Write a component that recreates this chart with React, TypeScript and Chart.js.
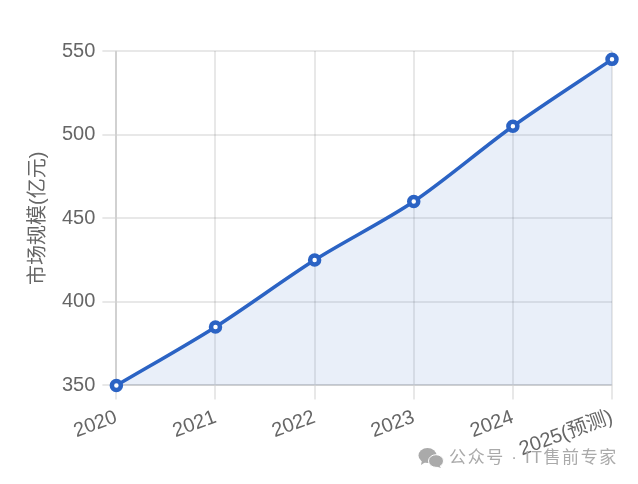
import React, { useEffect, useRef } from "react";
import { Chart, registerables } from "chart.js";

Chart.register(...registerables);

const categories = ["2020", "2021", "2022", "2023", "2024", "2025(预测)"];
const marketSize = [350, 385, 425, 460, 505, 545];
const yAxisTitle = "市场规模(亿元)";
const watermark = "公众号 · IT售前专家";
const FONT = '"Liberation Sans", "Noto Sans CJK SC", sans-serif';

export default function App() {
  const ref = useRef<HTMLCanvasElement | null>(null);
  useEffect(() => {
    const chart = new Chart(ref.current!, {
      type: "line",
      data: {
        labels: categories,
        datasets: [
          {
            data: marketSize,
            borderColor: "#2b63c4",
            backgroundColor: "rgba(43,99,196,0.1)",
            borderWidth: 3.5,
            fill: true,
            tension: 0.3,
            pointRadius: 4.5,
            pointBorderWidth: 4.5,
            pointBackgroundColor: "#ffffff",
            pointBorderColor: "#2b63c4",
            clip: false,
          },
        ],
      },
      options: {
        responsive: false,
        animation: false,
        layout: { padding: { top: 51, right: 26, left: 26, bottom: 16.5 } },
        plugins: { legend: { display: false }, tooltip: { enabled: false } },
        scales: {
          x: {
            offset: false,
            border: { width: 2 },
            grid: { color: "rgba(0,0,0,0.09)", lineWidth: 2, tickLength: 14 },
            ticks: { color: "#666", font: { family: FONT, size: 20 }, minRotation: 20, maxRotation: 20, padding: 6 },
          },
          y: {
            min: 350,
            max: 550,
            border: { width: 2 },
            grid: { color: "rgba(0,0,0,0.09)", lineWidth: 2, tickLength: 14 },
            ticks: { stepSize: 50, color: "#666", font: { family: FONT, size: 20 }, padding: 7 },
            title: { display: true, text: yAxisTitle, color: "#666", font: { family: FONT, size: 20 }, padding: { top: 0, bottom: 5 } },
          },
        },
      },
    });
    return () => chart.destroy();
  }, []);
  return (
    <div style={{ position: "fixed", left: 0, top: 0, width: 638, height: 484, background: "#fff" }}>
      <canvas ref={ref} width={638} height={484} style={{ display: "block" }} />
      <svg width="26" height="22" viewBox="0 0 26 22" style={{ position: "absolute", left: 418, top: 447 }}>
        <ellipse cx="9.5" cy="8.5" rx="9" ry="7.5" fill="#aaa" />
        <path d="M4 13 L3 18 L9 14 Z" fill="#aaa" />
        <ellipse cx="18" cy="14" rx="7.5" ry="6.3" fill="#aaa" stroke="#fff" strokeWidth="1" />
        <path d="M21 18 L23 21 L17 19 Z" fill="#aaa" />
      </svg>
      <div style={{ position: "absolute", left: 449, top: 447, fontFamily: FONT, fontSize: 17, lineHeight: "22px", color: "#aaa", letterSpacing: 1.65, whiteSpace: "nowrap" }}>{watermark}</div>
    </div>
  );
}
